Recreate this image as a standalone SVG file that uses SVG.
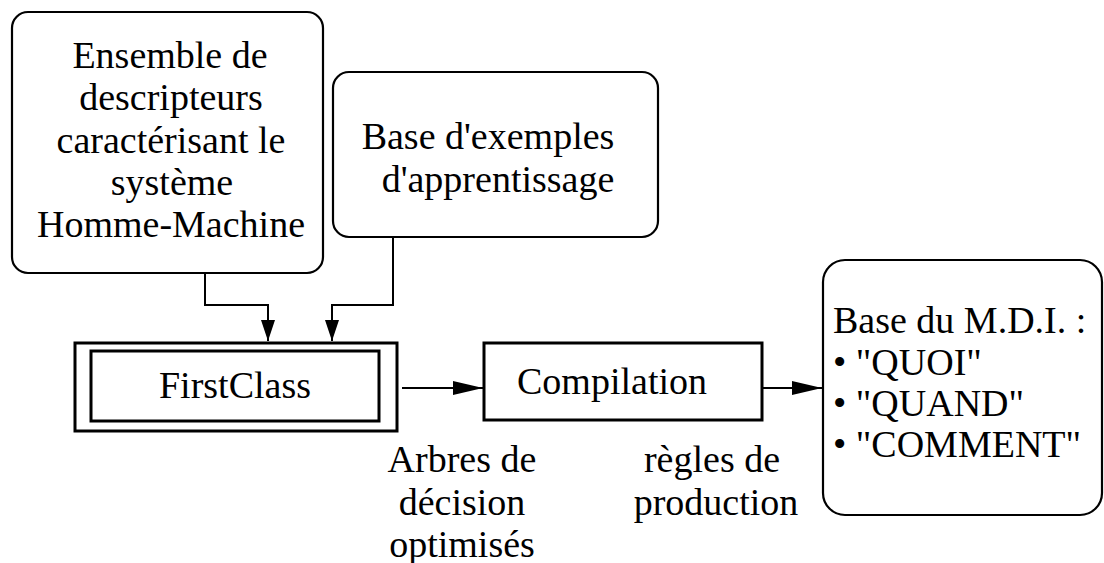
<svg xmlns="http://www.w3.org/2000/svg" width="1104" height="563" viewBox="0 0 1104 563">
  <style>
    .t { font-family: "Liberation Serif", "Times New Roman", serif; font-size: 38px; fill: #000; }
    .c { text-anchor: middle; }
    .rbox { fill: #fff; stroke: #000; stroke-width: 2.2; }
    .sbox { fill: #fff; stroke: #000; stroke-width: 3; }
    .conn { fill: none; stroke: #000; stroke-width: 2; }
  </style>
  <defs>
    <marker id="ahDown" markerUnits="userSpaceOnUse" markerWidth="22" markerHeight="16" refX="21" refY="7" orient="auto">
      <polygon points="0,0 21,7 0,14" fill="#000"/>
    </marker>
    <marker id="ahRight" markerUnits="userSpaceOnUse" markerWidth="32" markerHeight="16" refX="30" refY="7" orient="auto">
      <polygon points="0,0 30,7 0,14" fill="#000"/>
    </marker>
  </defs>
  <rect x="0" y="0" width="1104" height="563" fill="#fff"/>

  <g id="connectors">
    <path class="conn" d="M205,273 V305 H268 V341" marker-end="url(#ahDown)"/>
    <path class="conn" d="M393,237 V305 H332 V341" marker-end="url(#ahDown)"/>
    <path class="conn" d="M402,388 H483" marker-end="url(#ahRight)"/>
    <path class="conn" d="M762,388 H822" marker-end="url(#ahRight)"/>
  </g>

  <g id="descripteurs">
    <rect class="rbox" x="12" y="12" width="311" height="261" rx="16" ry="16"/>
    <text class="t c" x="170" y="68">Ensemble de</text>
    <text class="t c" x="171" y="110">descripteurs</text>
    <text class="t c" x="171" y="153">caractérisant le</text>
    <text class="t c" x="172" y="195">système</text>
    <text class="t c" x="171" y="237">Homme-Machine</text>
  </g>

  <g id="exemples">
    <rect class="rbox" x="333" y="72" width="325" height="165" rx="16" ry="16"/>
    <text class="t c" x="488" y="149">Base d'exemples</text>
    <text class="t c" x="498" y="192">d'apprentissage</text>
  </g>

  <g id="firstclass">
    <rect class="sbox" x="75" y="343" width="322" height="88"/>
    <rect class="sbox" x="91" y="351" width="288" height="70"/>
    <text class="t c" x="235" y="398">FirstClass</text>
  </g>

  <g id="compilation">
    <rect class="sbox" x="484" y="343" width="278" height="77"/>
    <text class="t c" x="612" y="394">Compilation</text>
  </g>

  <g id="mdi">
    <rect class="rbox" x="823" y="260" width="279" height="255" rx="22" ry="22"/>
    <text class="t" x="833" y="333">Base du M.D.I. :</text>
    <text class="t" x="833" y="375">• "QUOI"</text>
    <text class="t" x="833" y="416">• "QUAND"</text>
    <text class="t" x="833" y="457">• "COMMENT"</text>
  </g>

  <g id="label-arbres">
    <text class="t c" x="462" y="472">Arbres de</text>
    <text class="t c" x="462" y="515">décision</text>
    <text class="t c" x="462" y="557">optimisés</text>
  </g>

  <g id="label-regles">
    <text class="t c" x="712" y="472">règles de</text>
    <text class="t c" x="716" y="515">production</text>
  </g>
</svg>
